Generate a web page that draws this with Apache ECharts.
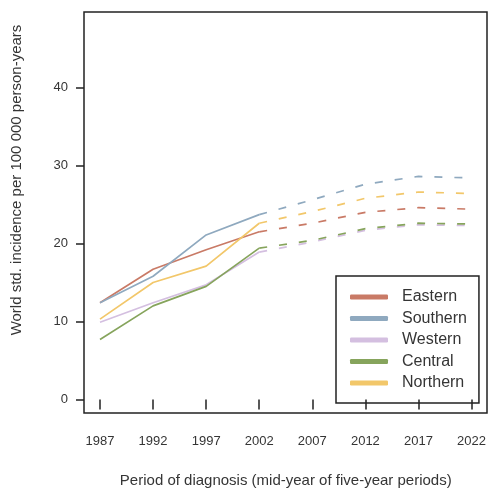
<!DOCTYPE html>
<html>
<head>
<meta charset="utf-8">
<script src="https://cdn.jsdelivr.net/npm/echarts@6/dist/echarts.min.js"></script>
<style>
html,body{margin:0;padding:0;background:#fff;}
#c{width:489px;height:493px;}
</style>
</head>
<body>
<div id="c"></div>
<script>
var years = ['1987','1992','1997','2002','2007','2012','2017','2022'];
var regions = ['Eastern','Southern','Western','Central','Northern'];
var colors = ['#c97a66','#8fa9bf','#d4bfe0','#86a45c','#f2c76a'];

// observed (solid), 1987-2002
var obsEastern  = [12.4, 16.7, 19.2, 21.5, null, null, null, null];
var obsSouthern = [12.4, 15.8, 21.1, 23.7, null, null, null, null];
var obsWestern  = [9.9, 12.4, 14.7, 18.9, null, null, null, null];
var obsCentral  = [7.7, 12.0, 14.5, 19.4, null, null, null, null];
var obsNorthern = [10.3, 15.0, 17.1, 22.6, null, null, null, null];

// projected (dashed), 2002-2022
var prjEastern  = [null, null, null, 21.5, 22.6, 24.0, 24.6, 24.4];
var prjSouthern = [null, null, null, 23.7, 25.6, 27.6, 28.6, 28.4];
var prjWestern  = [null, null, null, 18.9, 20.2, 21.7, 22.4, 22.3];
var prjCentral  = [null, null, null, 19.4, 20.4, 21.9, 22.6, 22.5];
var prjNorthern = [null, null, null, 22.6, 24.1, 25.8, 26.6, 26.4];

var yTicks = [0, 10, 20, 30, 40];

var obs = [obsEastern, obsSouthern, obsWestern, obsCentral, obsNorthern];
var prj = [prjEastern, prjSouthern, prjWestern, prjCentral, prjNorthern];

var font = '"Liberation Sans", Arial, sans-serif';
var txt = '#353535';

var series = [];
regions.forEach(function(name, i){
  series.push({
    name: name, type: 'line', data: obs[i], symbol: 'none', silent: true,
    lineStyle: {color: colors[i], width: 1.7}, itemStyle: {color: colors[i]}
  });
});
regions.forEach(function(name, i){
  series.push({
    name: name, type: 'line', data: prj[i], symbol: 'none', silent: true,
    lineStyle: {color: colors[i], width: 1.7, type: [8, 12]}, itemStyle: {color: colors[i]}
  });
});

var chart = echarts.init(document.getElementById('c'), null, {renderer: 'canvas'});
chart.setOption({
  animation: false,
  backgroundColor: '#fff',
  grid: {left: 100, right: 16, top: 87.5, bottom: 93.5},
  xAxis: {
    type: 'category', data: years, boundaryGap: false, offset: 13.5,
    axisLine: {show: false},
    axisTick: {show: true, length: 10, lineStyle: {color: '#222', width: 1.5}},
    axisLabel: {margin: 22, color: txt, fontSize: 13, fontFamily: font},
    splitLine: {show: false},
    name: 'Period of diagnosis (mid-year of five-year periods)',
    nameLocation: 'middle', nameGap: 60,
    nameTextStyle: {color: txt, fontSize: 15, fontFamily: font}
  },
  yAxis: {
    type: 'value', min: yTicks[0], max: yTicks[yTicks.length-1], interval: 10, offset: 16,
    axisLine: {show: false},
    axisTick: {show: true, length: 8, lineStyle: {color: '#222', width: 1.5}},
    axisLabel: {margin: 16, color: txt, fontSize: 13, fontFamily: font},
    splitLine: {show: false}
  },
  legend: {
    data: regions, orient: 'vertical', left: 336, top: 276,
    borderColor: '#222', borderWidth: 1.5, borderRadius: 0,
    padding: [13, 12, 12, 14],
    itemWidth: 38, itemHeight: 5, itemGap: 5.5, icon: 'roundRect',
    textStyle: {color: txt, fontSize: 16, lineHeight: 16, fontFamily: font, padding: [0, 0, 0, 9]},
    selectedMode: false
  },
  graphic: [
    {type: 'rect', shape: {x: 84, y: 12, width: 403, height: 401}, silent: true,
     style: {fill: 'none', stroke: '#222', lineWidth: 1.5}},
    {type: 'text', x: 17, y: 180, rotation: Math.PI/2, silent: true,
     style: {text: 'World std. incidence per 100 000 person-years', fill: txt,
             font: '15px ' + font, textAlign: 'center', textVerticalAlign: 'middle'}}
  ],
  series: series
});
</script>
</body>
</html>
